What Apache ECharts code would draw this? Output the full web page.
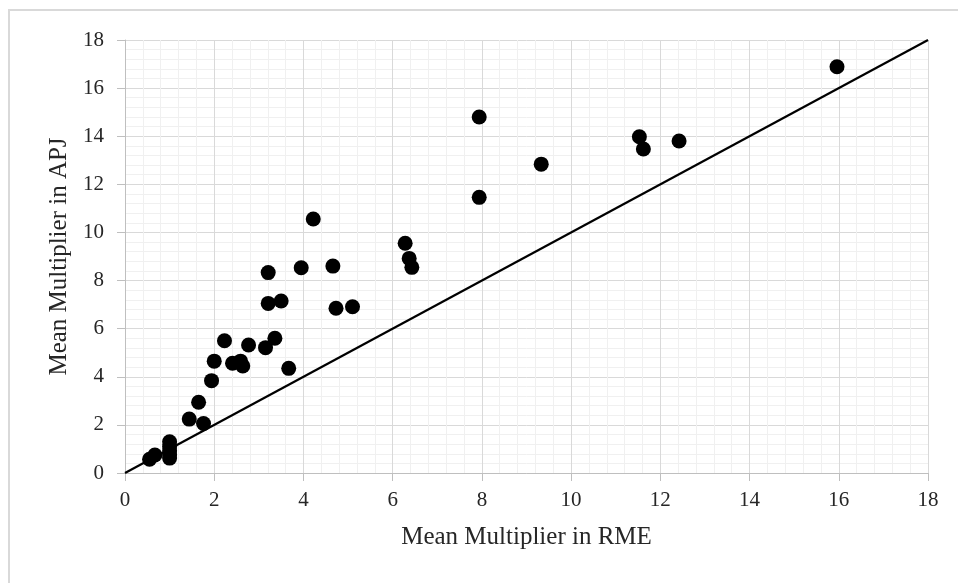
<!DOCTYPE html>
<html>
<head>
<meta charset="utf-8">
<script src="https://cdn.jsdelivr.net/npm/echarts@6/dist/echarts.min.js"></script>
<style>html,body{margin:0;padding:0;background:#fff;}#c{width:958px;height:583px;}</style>
</head>
<body>
<div id="c"></div>
<script>
const rmeValues = [0.55,0.67,1,1,1,1,1,1.44,1.76,1.65,1.94,2.0,2.23,2.41,2.59,2.64,2.77,3.15,3.36,3.67,3.21,3.21,3.5,3.95,4.66,4.73,5.1,4.22,6.28,6.37,6.43,7.94,7.94,9.33,11.53,11.62,12.42,15.96];
const apjValues = [0.57,0.75,1.3,1.1,0.92,0.76,0.62,2.24,2.06,2.94,3.84,4.65,5.5,4.56,4.65,4.45,5.32,5.21,5.6,4.35,8.33,7.05,7.15,8.53,8.6,6.85,6.91,10.56,9.55,8.92,8.55,11.46,14.8,12.84,13.98,13.47,13.8,16.89];
const refLine = [[0,0],[18,18]];
const axisTicks = {min:0, max:18, interval:2};
const xTitle = 'Mean Multiplier in RME';
const yTitle = 'Mean Multiplier in APJ';

const points = rmeValues.map((x,i)=>[x, apjValues[i]]);
const font = 'Liberation Serif';
const axisCommon = {
  type:'value', min:axisTicks.min, max:axisTicks.max, interval:axisTicks.interval,
  nameLocation:'middle',
  nameTextStyle:{fontFamily:font, fontSize:25, color:'#262626'},
  axisLine:{show:true, onZero:false, lineStyle:{color:'#bfbfbf', width:1}},
  axisTick:{show:true, length:8, lineStyle:{color:'#bfbfbf'}},
  axisLabel:{fontFamily:font, fontSize:21, color:'#262626'},
  splitLine:{show:true, lineStyle:{color:'#d9d9d9', width:1}},
  minorTick:{show:false, splitNumber:5},
  minorSplitLine:{show:true, lineStyle:{color:'#f0f0f0', width:1}}
};
const chart = echarts.init(document.getElementById('c'), null, {renderer:'canvas'});
chart.setOption({
  animation:false,
  backgroundColor:'#fff',
  graphic:[{type:'rect', shape:{x:9,y:10,width:980,height:600}, style:{fill:'none', stroke:'#d9d9d9', lineWidth:2}, z:-10}],
  grid:{left:125, right:30, top:40, bottom:110},
  xAxis:Object.assign({}, axisCommon, {name:xTitle, nameGap:52, axisLabel:Object.assign({}, axisCommon.axisLabel, {margin:17})}),
  yAxis:Object.assign({}, axisCommon, {name:yTitle, nameGap:53, axisLabel:Object.assign({}, axisCommon.axisLabel, {margin:21})}),
  series:[
    {type:'line', data:refLine, symbol:'none', lineStyle:{color:'#000', width:2.2}, z:2},
    {type:'scatter', data:points, symbol:'circle', symbolSize:15, itemStyle:{color:'#000', opacity:1}, z:3}
  ]
});
</script>
</body>
</html>
